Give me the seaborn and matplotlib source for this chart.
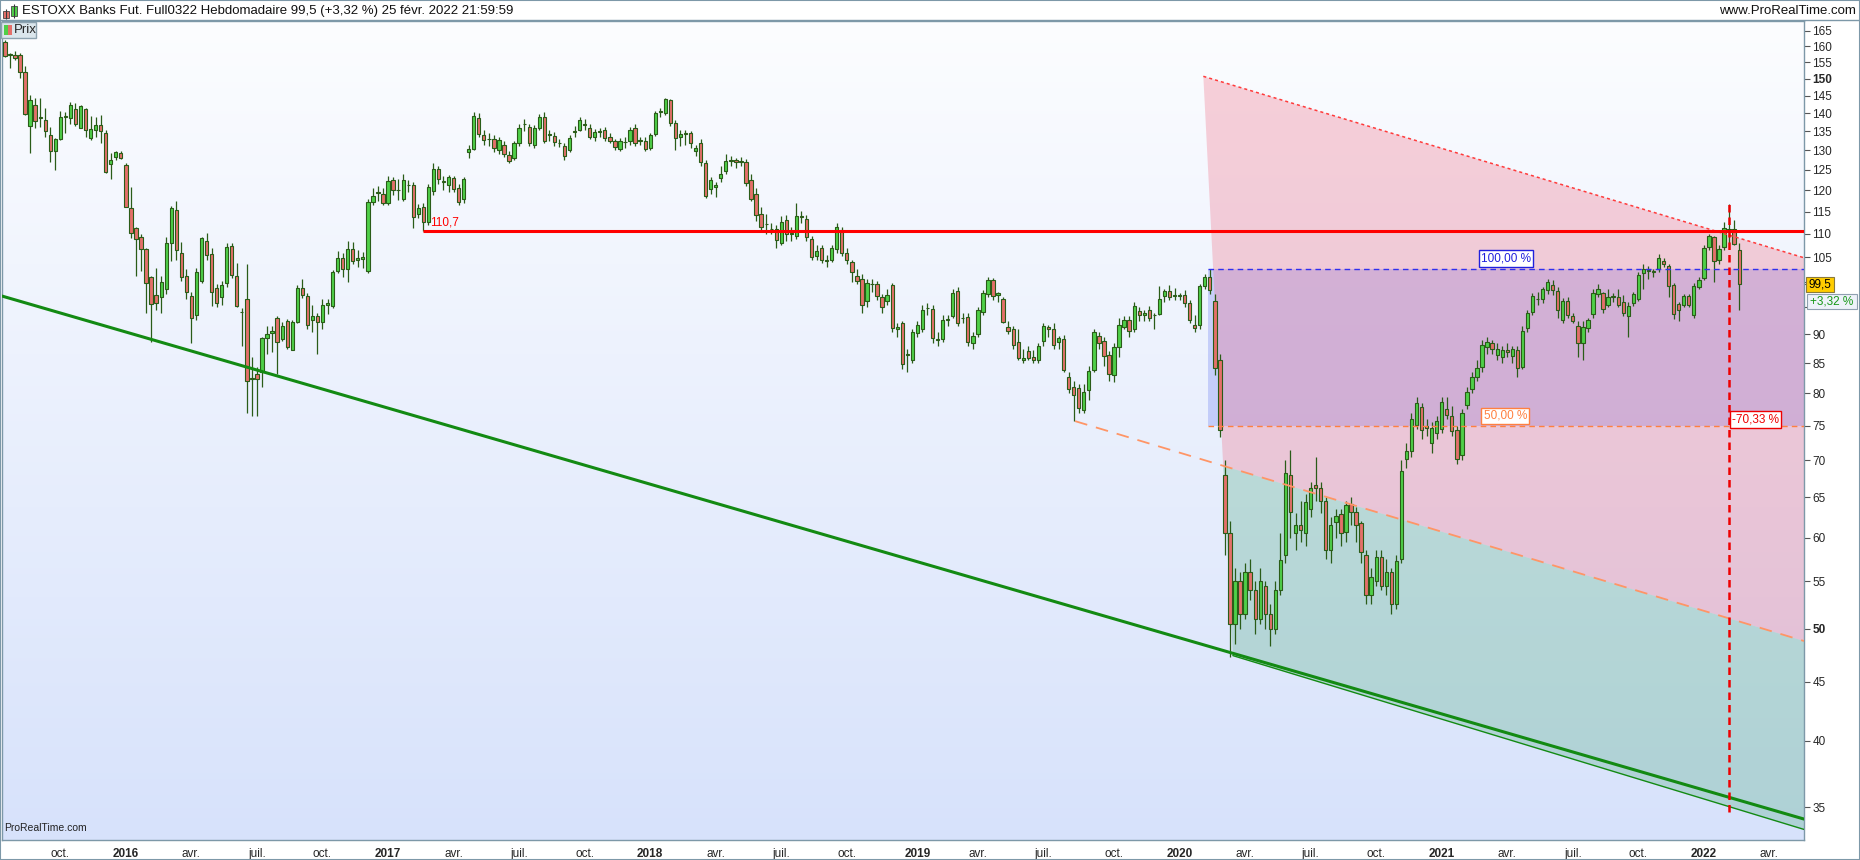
import numpy as np
import pandas as pd
import seaborn as sns
import matplotlib.pyplot as plt
import matplotlib.dates as mdates
from matplotlib.patches import Rectangle, Polygon
from matplotlib.transforms import blended_transform_factory

sns.set_style("white")
plt.rcParams["font.family"] = ["Liberation Sans Narrow", "Liberation Sans", "DejaVu Sans"]

# weekly bars, one per Monday from 2015-07-20 to 2022-02-21
first_week = "2015-07-20"
x_left, x_right = "2015-07-16", "2022-05-22"
y_bottom, y_top = 32.8, 168.3

opens = [
    161.5, 157.3, 157.1, 157.1, 152.1, 136.6, 142.4, 138.6, 138.1, 134.0, 129.8, 133.1, 139.0, 138.6, 141.3, 136.0, 141.3, 133.3, 135.4, 136.8, 134.5, 126.5, 128.2, 129.3,
    126.3, 115.9, 111.3, 109.3, 106.7, 100.9, 97.4, 96.9, 98.5, 108.0, 115.3, 105.9, 101.1, 97.2, 93.5, 100.1, 108.5, 105.6, 98.8, 97.0, 99.8, 107.3, 101.2, 94.2, 96.7, 82.4,
    83.2, 83.5, 89.3, 90.3, 93.0, 89.2, 92.4, 87.3, 92.3, 98.8, 97.2, 92.7, 93.3, 92.3, 95.5, 95.2, 102.1, 104.8, 102.6, 106.8, 104.5, 104.6, 102.1, 117.3, 119.3, 119.2,
    117.0, 122.4, 120.1, 118.0, 121.4, 121.2, 114.4, 116.2, 112.7, 119.8, 125.3, 122.3, 121.2, 122.9, 120.5, 118.0, 129.6, 130.4, 138.8, 134.1, 133.0, 133.0, 130.0, 131.3,
    128.9, 128.0, 131.8, 137.0, 136.2, 131.3, 136.0, 138.9, 134.1, 133.9, 131.9, 131.0, 130.1, 134.9, 135.4, 136.8, 135.9, 133.4, 134.9, 135.4, 133.6, 132.4, 130.3, 132.2,
    132.4, 136.0, 132.5, 132.5,
    130.7, 134.3, 140.4, 140.0, 143.6, 137.2, 133.6, 134.3, 134.5, 129.8, 132.0, 126.8, 120.3, 120.8, 123.0, 124.8, 127.2, 127.6, 127.0, 127.1, 122.6, 119.2, 114.5, 112.3,
    111.2, 111.0, 108.0, 113.2, 110.0, 109.5, 113.8, 113.3, 108.9, 105.2, 106.9, 104.4, 104.5, 106.7, 110.8, 106.0, 104.0, 101.1, 100.6, 96.3, 99.6, 99.6, 96.9, 96.3,
    99.3, 91.0, 92.1, 86.5,
    85.6, 90.3, 91.0, 94.8, 94.7, 89.1, 89.2, 92.7, 93.4, 98.2, 93.0, 93.2, 88.4, 90.1, 94.2, 97.6, 100.3, 97.3, 96.6, 91.3, 90.9, 88.7, 85.6, 87.1, 86.0, 85.6,
    88.8, 91.3, 90.9, 88.6, 89.2, 82.6, 81.0, 80.8, 77.4, 80.6, 83.8, 89.8, 88.9, 86.4, 83.0, 87.8, 91.4, 92.7, 91.0, 94.4, 93.6, 94.5, 93.5, 93.8, 97.1, 98.2,
    97.2, 97.2, 97.4, 95.9, 91.7, 91.7, 99.2, 101.0, 96.3, 85.5, 68.0, 60.6, 50.5, 55.0, 51.5, 56.0, 54.0, 51.0, 54.5, 51.5, 50.0, 54.0, 58.0, 68.0, 60.5, 61.5,
    60.5, 63.5, 66.6, 66.3, 64.6, 58.5, 61.9, 62.9, 60.7, 64.2, 63.2, 61.8, 58.0, 53.5, 55.0, 57.7, 54.5, 56.0, 52.5, 57.5, 70.2, 71.3, 75.1, 77.8, 74.9, 72.4,
    73.9, 74.5, 77.6, 76.5, 74.4, 70.8, 78.2, 80.7, 82.7, 84.4, 87.7, 88.5, 86.4, 86.0, 87.3, 86.2, 87.2, 84.3, 91.1, 94.1, 96.6, 96.7, 98.4, 99.4, 98.2, 92.7,
    96.2, 93.4, 91.6, 88.4, 91.1, 93.8, 97.5, 97.7, 95.5, 97.0, 97.0, 96.0, 93.4, 95.9, 96.7, 101.7, 102.2, 102.0, 102.6, 104.3, 103.2, 99.4, 95.7, 95.5, 97.1, 93.6,
    98.9, 100.7, 107.2, 109.4, 104.5, 107.2, 110.7, 111.1, 106.6,
]
highs = [
    162.0, 158.0, 158.6, 157.9, 153.8, 145.2, 144.3, 144.3, 141.5, 136.1, 133.2, 140.7, 140.2, 143.3, 142.9, 142.3, 141.5, 139.3, 138.9, 139.6, 135.4, 129.3, 129.8, 129.7,
    126.7, 120.9, 111.6, 110.0, 107.0, 101.2, 102.8, 101.2, 109.4, 116.3, 117.5, 108.3, 102.5, 98.0, 102.7, 109.3, 110.3, 107.0, 99.5, 100.2, 108.0, 108.0, 103.8, 94.8, 103.6, 86.0,
    84.3, 89.5, 91.6, 91.6, 93.3, 92.3, 92.8, 92.6, 99.4, 100.6, 97.8, 95.5, 93.9, 96.7, 96.7, 102.3, 106.3, 106.0, 108.5, 108.3, 106.5, 106.2, 118.0, 120.5, 121.0, 120.5,
    123.5, 123.2, 122.8, 124.0, 122.5, 122.0, 116.8, 117.0, 121.5, 126.8, 126.0, 123.5, 123.8, 123.5, 121.5, 123.3, 131.5, 140.2, 140.0, 135.5, 134.5, 134.0, 133.5, 132.4,
    129.8, 132.5, 137.0, 138.5, 137.0, 136.8, 139.8, 140.3, 135.3, 134.8, 133.0, 132.0, 134.0, 136.5, 139.0, 138.4, 137.0, 135.6, 136.0, 136.3, 134.5, 133.0, 133.2, 133.5,
    136.3, 137.0, 133.5, 133.4,
    134.6, 140.6, 141.5, 144.3, 144.0, 138.0, 135.5, 135.5, 135.0, 131.5, 133.0, 127.5, 123.2, 122.0, 126.0, 129.0, 128.5, 128.0, 128.3, 127.8, 124.0, 120.5, 116.0, 114.5,
    112.5, 112.0, 114.0, 114.3, 111.5, 117.0, 115.2, 114.2, 109.5, 107.5, 107.5, 105.5, 107.5, 112.5, 111.5, 107.0, 104.5, 102.5, 101.5, 100.5, 100.5, 100.2, 97.5, 98.5,
    99.8, 92.0, 92.5, 87.5,
    91.0, 92.5, 95.5, 95.8, 95.5, 90.5, 93.5, 93.5, 98.5, 99.0, 94.0, 94.0, 90.5, 95.0, 98.3, 101.0, 100.8, 98.0, 97.0, 92.5, 91.5, 91.0, 87.5, 88.0, 87.3, 88.5,
    92.0, 91.8, 92.0, 89.8, 89.9, 83.5, 82.0, 81.5, 81.5, 84.5, 91.0, 90.5, 89.5, 87.0, 88.5, 93.0, 93.3, 93.3, 96.0, 95.0, 94.5, 95.2, 94.0, 99.2, 98.5, 99.3,
    98.8, 97.8, 98.3, 96.5, 93.5, 99.5, 101.5, 102.6, 97.5, 86.5, 70.1, 62.0, 56.5, 56.0, 57.0, 57.5, 55.0, 56.5, 55.0, 52.5, 55.0, 60.6, 70.0, 71.5, 63.0, 64.5,
    65.5, 67.0, 70.5, 67.0, 65.0, 62.5, 63.5, 63.5, 64.5, 65.0, 63.8, 62.0, 58.5, 56.5, 58.5, 58.5, 57.5, 56.5, 58.0, 70.0, 72.5, 77.0, 79.5, 78.5, 76.0, 75.5,
    76.5, 79.5, 79.5, 78.0, 75.0, 77.5, 81.0, 83.5, 85.5, 89.0, 89.5, 89.0, 88.5, 88.0, 88.5, 88.0, 88.0, 91.5, 94.5, 97.8, 98.0, 99.0, 100.5, 100.4, 99.0, 96.8,
    97.0, 94.0, 92.5, 92.5, 93.0, 98.5, 99.5, 98.0, 98.5, 97.8, 98.5, 97.3, 96.0, 98.0, 102.0, 103.5, 103.2, 102.5, 105.7, 104.8, 103.5, 99.8, 96.0, 97.5, 97.5, 99.8,
    101.0, 107.5, 110.0, 109.5, 107.5, 112.6, 116.8, 113.2, 108.0,
]
lows = [
    156.5, 153.3, 155.8, 150.1, 139.6, 129.2, 135.9, 136.3, 133.5, 127.0, 124.9, 132.6, 134.5, 136.9, 136.6, 135.9, 133.5, 132.7, 133.6, 131.8, 124.2, 122.7, 127.5, 127.8,
    116.0, 109.2, 101.2, 102.2, 94.0, 88.7, 94.5, 93.9, 97.6, 104.3, 104.4, 100.2, 96.7, 88.4, 92.6, 99.7, 104.5, 95.2, 95.0, 95.4, 99.0, 100.8, 95.0, 87.9, 77.0, 76.5,
    76.5, 81.0, 86.6, 86.9, 83.1, 88.9, 87.5, 87.2, 92.0, 96.8, 90.9, 90.5, 86.6, 91.0, 93.8, 94.9, 101.7, 101.0, 100.0, 103.6, 103.0, 102.8, 101.8, 116.5, 117.5, 116.6,
    116.5, 119.0, 117.8, 117.5, 119.5, 111.3, 113.5, 110.7, 112.0, 119.0, 121.5, 120.0, 119.6, 119.5, 116.5, 117.0, 127.9, 130.0, 133.5, 131.5, 131.0, 129.5, 129.0, 128.3,
    126.8, 127.5, 131.0, 135.0, 131.0, 130.5, 135.5, 132.0, 132.5, 131.0, 130.8, 127.5, 129.5, 133.5, 135.0, 135.5, 133.0, 132.5, 133.5, 132.5, 131.8, 130.2, 129.8, 130.5,
    131.5, 131.0, 131.5, 129.8,
    130.2, 133.8, 139.0, 139.5, 136.5, 130.0, 131.0, 131.5, 130.5, 128.5, 126.0, 118.2, 119.2, 118.5, 122.0, 124.0, 126.0, 125.5, 126.0, 121.0, 117.5, 113.0, 110.5, 110.0,
    110.0, 107.0, 107.5, 108.5, 108.5, 109.0, 112.5, 108.5, 104.5, 104.5, 103.8, 103.0, 104.0, 106.0, 105.3, 103.5, 100.0, 99.5, 94.0, 95.0, 98.0, 96.5, 94.0, 95.5,
    90.5, 89.5, 84.0, 83.5,
    85.0, 89.5, 90.5, 93.5, 88.5, 88.0, 88.7, 91.5, 93.0, 91.5, 92.0, 88.0, 87.5, 89.5, 93.5, 97.0, 96.5, 96.0, 92.0, 90.0, 87.5, 85.5, 85.0, 85.5, 85.0, 85.0,
    88.0, 89.5, 87.5, 87.5, 83.5, 80.0, 75.7, 77.0, 77.0, 79.0, 83.5, 87.5, 84.5, 82.0, 81.8, 86.0, 91.0, 89.5, 90.5, 92.5, 92.5, 92.5, 91.0, 93.5, 96.0, 96.5,
    96.5, 96.5, 95.0, 92.0, 90.5, 91.0, 98.5, 97.5, 83.0, 73.3, 58.0, 47.3, 48.5, 50.0, 51.0, 53.0, 49.5, 50.5, 50.0, 48.3, 49.5, 53.5, 57.0, 60.0, 58.5, 59.5,
    59.0, 62.5, 64.5, 63.0, 57.5, 57.0, 60.0, 59.0, 59.5, 61.5, 59.5, 57.0, 52.5, 52.5, 54.5, 54.0, 53.5, 51.5, 52.0, 57.0, 69.0, 70.5, 74.5, 73.0, 73.5, 71.0,
    73.0, 74.0, 76.0, 73.5, 69.5, 70.0, 77.5, 80.0, 82.0, 83.5, 86.5, 86.5, 85.5, 85.0, 86.0, 85.0, 82.6, 84.0, 90.5, 93.5, 95.5, 95.8, 97.5, 97.3, 93.0, 92.0,
    93.0, 92.0, 86.0, 85.5, 90.5, 93.0, 97.0, 94.0, 95.0, 96.0, 95.0, 93.3, 89.5, 95.3, 96.3, 98.5, 100.5, 101.0, 102.0, 103.0, 97.0, 92.8, 92.5, 95.0, 95.0, 93.0,
    98.5, 100.3, 106.5, 100.0, 103.5, 106.5, 108.0, 107.5, 94.5,
]
closes = [
    157.0, 157.5, 156.2, 152.1, 139.9, 143.7, 137.8, 138.9, 135.0, 129.8, 133.1, 139.0, 139.3, 142.3, 137.1, 142.0, 135.4, 135.7, 136.8, 135.0, 124.4, 127.4, 129.5, 128.0,
    116.2, 110.2, 109.0, 106.7, 99.7, 95.7, 95.8, 99.9, 108.0, 115.8, 106.5, 101.0, 98.0, 93.0, 101.9, 109.1, 105.4, 98.0, 95.9, 99.4, 107.2, 101.3, 95.2, 94.1, 82.0, 82.5,
    82.4, 89.3, 90.1, 90.6, 88.6, 91.5, 87.8, 92.2, 98.8, 97.4, 91.8, 93.3, 92.3, 95.5, 95.9, 101.9, 104.8, 102.6, 106.8, 104.3, 104.9, 105.0, 117.3, 118.6, 119.5, 117.0,
    122.2, 120.1, 120.0, 122.4, 121.2, 113.8, 115.9, 112.7, 120.7, 125.3, 122.7, 122.0, 123.3, 120.4, 117.3, 122.7, 130.3, 139.3, 134.2, 132.7, 133.1, 130.7, 132.6, 129.0,
    127.3, 131.8, 136.0, 137.1, 131.8, 136.0, 138.9, 132.5, 134.2, 132.1, 132.0, 128.5, 133.3, 135.1, 138.2, 136.9, 133.6, 134.8, 135.0, 133.2, 132.4, 130.8, 132.5, 132.1,
    135.4, 131.8, 132.6, 130.3,
    134.1, 140.1, 140.6, 143.9, 137.4, 133.3, 134.3, 134.6, 131.8, 130.6, 127.0, 118.6, 122.6, 121.4, 124.1, 127.2, 127.4, 126.9, 127.2, 121.8, 118.0, 114.2, 111.6, 112.2,
    111.0, 108.6, 112.6, 110.0, 110.3, 114.1, 114.0, 109.3, 105.1, 106.4, 104.5, 104.2, 106.9, 111.6, 105.8, 104.5, 102.0, 100.2, 95.5, 99.8, 99.5, 97.1, 95.1, 97.4,
    91.2, 91.3, 84.8, 86.4,
    90.5, 91.7, 94.6, 94.8, 89.4, 89.2, 92.7, 92.8, 97.8, 92.1, 93.1, 88.6, 89.7, 94.6, 97.8, 100.3, 97.1, 97.7, 92.3, 90.6, 88.1, 85.9, 85.9, 85.9, 85.6, 88.0,
    91.6, 90.9, 88.1, 89.3, 83.9, 80.7, 79.7, 77.7, 80.2, 83.6, 90.5, 88.4, 86.2, 83.2, 87.8, 91.7, 92.7, 90.6, 95.2, 93.5, 94.0, 93.0, 93.6, 96.6, 98.2, 97.0,
    97.4, 97.3, 95.9, 92.6, 91.2, 99.2, 100.9, 98.3, 84.2, 74.3, 60.6, 50.5, 55.0, 51.5, 56.0, 54.0, 51.0, 55.0, 51.5, 50.0, 54.0, 57.4, 68.2, 63.1, 61.5, 60.9,
    64.4, 66.3, 66.2, 64.6, 58.5, 61.5, 62.7, 60.5, 64.0, 63.1, 61.5, 58.3, 53.5, 55.5, 57.7, 54.5, 56.0, 52.5, 57.3, 68.5, 71.3, 76.0, 78.5, 74.3, 74.7, 74.6,
    75.7, 78.6, 76.6, 74.2, 70.2, 77.0, 80.2, 82.7, 84.1, 88.2, 88.7, 87.5, 87.5, 87.3, 86.9, 87.4, 84.1, 90.6, 94.0, 97.1, 96.7, 98.5, 100.0, 98.4, 94.5, 96.2,
    93.6, 92.5, 88.5, 91.3, 92.6, 97.8, 98.6, 94.7, 97.0, 97.1, 95.5, 94.0, 95.2, 97.6, 101.4, 102.5, 102.3, 102.1, 104.9, 103.6, 99.2, 93.8, 94.6, 97.1, 95.5, 99.1,
    100.4, 106.9, 109.5, 104.2, 106.7, 111.3, 111.1, 107.9, 99.5,
]

title = "ESTOXX Banks Fut. Full0322 Hebdomadaire 99,5 (+3,32 %) 25 févr. 2022 21:59:59"
site = "www.ProRealTime.com"
last_label, change_label = "99,5", "+3,32 %"
price_ticks = [35, 40, 45, 50, 55, 60, 65, 70, 75, 80, 85, 90, 95, 100, 105, 110,
               115, 120, 125, 130, 135, 140, 145, 150, 155, 160, 165]
bold_ticks = [50, 150]
hidden_ticks = [95, 100]  # covered by the last-price tags
month_labels = {4: "avr.", 7: "juil.", 10: "oct."}

# drawing tools placed on the chart (date, price)
resistance_start, resistance = "2017-02-20", 110.7
support = (["2015-07-13", "2022-05-22"], [97.3, 34.2])
channel_top = (["2020-02-08", "2022-05-22"], [150.7, 104.9])
channel_mid = (["2019-08-14", "2022-05-22"], [75.7, 48.8])
channel_low = (["2020-03-20", "2022-05-22"], [47.4, 33.5])
fib_start = "2020-02-15"
fib_100, fib_50 = 102.6, 75.0
drop_date = "2022-02-07"
drop_top, drop_bottom = 116.9, 34.7
drop_label = "-70,33 %"

W, H = 1860, 860
green, red, edge = "#4fcf48", "#e4706a", "#2a5c18"


def fx(px):
    return px / W


def fy(py):
    return 1 - py / H


fig = plt.figure(figsize=(W / 100, H / 100), dpi=100)
fig.patch.set_facecolor("white")

ax = fig.add_axes([fx(2), fy(840), fx(1804) - fx(2), fy(21) - fy(840)])
grad = np.linspace(0, 1, 256)[:, None, None]
bg_top, bg_bot = np.array([252, 253, 255]) / 255, np.array([215, 226, 251]) / 255
ax.imshow(bg_top + (bg_bot - bg_top) * grad, extent=[0, 1, 0, 1],
          transform=ax.transAxes, aspect="auto", zorder=0)
ax.set_yscale("log")
ax.xaxis_date()

dates = pd.date_range(first_week, periods=len(closes), freq="W-MON")
candles = pd.DataFrame({"open": opens, "high": highs, "low": lows, "close": closes}, index=dates)
rising = candles["close"] >= candles["open"]


# drawing-tool fills (blue fib zone under, pink/teal channel over)
def pt(d, p):
    return np.array([mdates.date2num(pd.Timestamp(d)), np.log(p)])


def cross(p1, p2, p3, p4):
    d1, d2 = p2 - p1, p4 - p3
    t = ((p3[0] - p1[0]) * d2[1] - (p3[1] - p1[1]) * d2[0]) / (d1[0] * d2[1] - d1[1] * d2[0])
    return p1 + t * d1


A, A2 = pt(channel_top[0][0], channel_top[1][0]), pt(channel_top[0][1], channel_top[1][1])
M1, M2 = pt(channel_mid[0][0], channel_mid[1][0]), pt(channel_mid[0][1], channel_mid[1][1])
B, B2 = pt(channel_low[0][0], channel_low[1][0]), pt(channel_low[0][1], channel_low[1][1])
P = cross(A, B, M1, M2)


def back(p):
    return (p[0], np.exp(p[1]))


x0f, x1f = mdates.date2num(pd.Timestamp(fib_start)), mdates.date2num(pd.Timestamp(x_right))
ax.add_patch(Rectangle((x0f, fib_50), x1f - x0f, fib_100 - fib_50,
                       facecolor="#6a7cf0", alpha=0.30, lw=0, zorder=1.2))
ax.add_patch(Polygon([back(p) for p in (A, A2, M2, P)], closed=True,
                     facecolor="#f06a82", alpha=0.30, lw=0, zorder=1.5))
ax.add_patch(Polygon([back(p) for p in (P, M2, B2, B)], closed=True,
                     facecolor="#5aaf8a", alpha=0.32, lw=0, zorder=1.5))

# candles
ax.vlines(candles.index, candles["low"], candles["high"], color=edge, lw=0.9, zorder=3)
ax.bar(candles.index, (candles["close"] - candles["open"]).abs(),
       bottom=candles[["open", "close"]].min(axis=1), width=4.6,
       color=np.where(rising, green, red), edgecolor=edge, linewidth=0.8, zorder=4)

# lines
sns.lineplot(x=pd.to_datetime(support[0]), y=support[1], ax=ax, color="#138a13", linewidth=2.2, zorder=5)
sns.lineplot(x=pd.to_datetime(channel_low[0]), y=channel_low[1], ax=ax, color="#138a13", linewidth=1.0, zorder=5)
ax.plot(pd.to_datetime(channel_top[0]), channel_top[1], color="#ff3b3b", lw=1.1, ls=(0, (2, 2)), zorder=5)
ax.plot(pd.to_datetime(channel_mid[0]), channel_mid[1], color="#ff9566", lw=1.3, ls=(0, (7, 5)), zorder=5)
ax.hlines(resistance, pd.Timestamp(resistance_start), pd.Timestamp(x_right), color="#ff0000", lw=2.2, zorder=5)
ax.hlines(fib_100, pd.Timestamp(fib_start), pd.Timestamp(x_right), color="#3030ee", lw=1.0, ls=(0, (4, 3)), zorder=5)
ax.hlines(fib_50, pd.Timestamp(fib_start), pd.Timestamp(x_right), color="#ff8040", lw=1.0, ls=(0, (4, 3)), zorder=5)
ax.vlines(pd.Timestamp(drop_date), drop_bottom, drop_top, color="#ee0000", lw=1.8, ls=(0, (3, 2)), zorder=5)

ax.text(pd.Timestamp("2017-03-01"), resistance * 1.004, "110,7", color="#ff0000",
        fontsize=8.5, ha="left", va="bottom", zorder=6)
bt = blended_transform_factory(ax.transAxes, ax.transData)
ax.text(0.8346, 104.8, "100,00 %", transform=bt, color="#2020dd", fontsize=8.5, ha="center", va="center",
        bbox=dict(boxstyle="square,pad=0.2", fc="white", ec="#2020dd", lw=1), zorder=6)
ax.text(0.8343, 76.5, "50,00 %", transform=bt, color="#ff8040", fontsize=8.5, ha="center", va="center",
        bbox=dict(boxstyle="square,pad=0.2", fc="white", ec="#ff8040", lw=1), zorder=6)
ax.text(0.9600, 76.0, drop_label, transform=bt, color="#ee0000", fontsize=8.5, ha="left", va="center",
        bbox=dict(boxstyle="square,pad=0.2", fc="white", ec="#ee0000", lw=1), zorder=6)
ax.text(0.001, 0.008, "ProRealTime.com", transform=ax.transAxes, fontsize=7.5, color="#222222",
        ha="left", va="bottom", zorder=6)

# axes
ax.set_xlim(pd.Timestamp(x_left), pd.Timestamp(x_right))
ax.set_ylim(y_bottom, y_top)
ax.set_xlabel("")
ax.set_ylabel("")
ax.yaxis.tick_right()
ax.set_yticks(price_ticks + [99.5])
ax.set_yticklabels(["" if t in hidden_ticks else str(t) for t in price_ticks] + [""])
ax.yaxis.set_minor_locator(plt.NullLocator())
for lab, t in zip(ax.get_yticklabels(), price_ticks):
    if t in bold_ticks:
        lab.set_fontweight("bold")

grid = pd.date_range(first_week, x_right, freq="W-MON")
tick_pos, tick_lab = [], []
for d in grid:
    if d.day <= 7 and (d.month == 1 or d.month in month_labels):
        tick_pos.append(d)
        tick_lab.append(str(d.year) if d.month == 1 else month_labels[d.month])
ax.set_xticks(tick_pos)
ax.set_xticklabels(tick_lab)
ax.xaxis.set_minor_locator(plt.NullLocator())
for lab in ax.get_xticklabels():
    if lab.get_text().isdigit():
        lab.set_fontweight("bold")
ax.tick_params(axis="both", direction="out", length=4, width=0.8, color="#555555",
               labelsize=8.5, pad=2)
for s in ax.spines.values():
    s.set_color("#7d98a8")
    s.set_linewidth(1.0)
ax.grid(False)

# header bar
hax = fig.add_axes([0, fy(20), 1, 20 / H])
hgrad = np.linspace(0, 1, 64)[:, None, None]
h_top, h_bot = np.array([205, 226, 236]) / 255, np.array([172, 203, 217]) / 255
hax.imshow(h_top + (h_bot - h_top) * hgrad, extent=[0, 1, 0, 1], aspect="auto")
hax.set_xlim(0, W)
hax.set_ylim(20, 0)
hax.axis("off")
hax.vlines([6, 14], [9, 4], [19, 18], color="#3a3a3a", lw=0.8)
hax.add_patch(Rectangle((3, 11), 6, 7, fc="#e4706a", ec="#444444", lw=0.6))
hax.add_patch(Rectangle((11, 6), 6, 10, fc="#4fcf48", ec="#444444", lw=0.6))
hax.text(22, 11, title, fontsize=9.5, color="#111111", ha="left", va="center")
hax.text(1856, 11, site, fontsize=9.5, color="#111111", ha="right", va="center")
fig.add_artist(plt.Line2D([0, 1], [fy(20), fy(20)], color="#7d98a8", lw=1.0, transform=fig.transFigure))

# legend chip
fig.add_artist(Rectangle((fx(1), fy(38)), fx(35), 16 / H, transform=fig.transFigure,
                         fc="#dbe6ec", ec="#8ea3b0", lw=1, zorder=10))
fig.add_artist(Rectangle((fx(4), fy(35)), fx(4), 10 / H, transform=fig.transFigure,
                         fc="#4fcf48", lw=0, zorder=11))
fig.add_artist(Rectangle((fx(8), fy(35)), fx(4), 10 / H, transform=fig.transFigure,
                         fc="#e4706a", lw=0, zorder=11))
fig.text(fx(14), fy(30), "Prix", fontsize=9.5, ha="left", va="center", zorder=12)

# last price tags on the price scale
fig.add_artist(Rectangle((fx(1806), fy(292)), fx(28), 15 / H, transform=fig.transFigure,
                         fc="#ffcc00", ec="#8a7a3a", lw=0.8, zorder=11))
fig.text(fx(1820), fy(284.5), last_label, fontsize=8.5, ha="center", va="center",
         color="black", zorder=12)
fig.add_artist(Rectangle((fx(1807), fy(309)), fx(50), 15 / H, transform=fig.transFigure,
                         fc="#eef2fa", ec="#90a0b0", lw=0.8, zorder=11))
fig.text(fx(1832), fy(301.5), change_label, fontsize=8.5, ha="center", va="center",
         color="#189818", zorder=12)

fig.add_artist(Rectangle((0, 0), 1, 1, transform=fig.transFigure, fill=False, ec="#7d98a8", lw=1.5))

plt.savefig("out.png", dpi=100)
